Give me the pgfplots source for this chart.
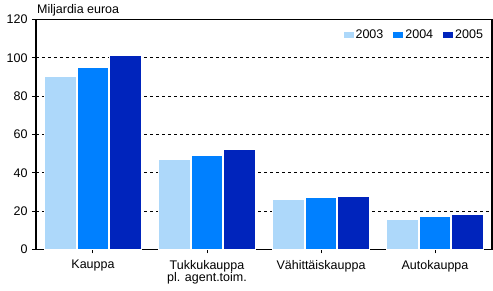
\documentclass[border=0pt]{standalone}
\usepackage{pgfplots}
\pgfplotsset{compat=1.18}
\usepackage{fontspec}
\setmainfont{Liberation Sans}
\definecolor{cA}{RGB}{173,216,250}
\definecolor{cB}{RGB}{0,128,255}
\definecolor{cC}{RGB}{0,36,188}
\begin{document}
\begin{tikzpicture}
\begin{axis}[
  at={(0pt,0pt)}, anchor=south west,
  scale only axis, width=456pt, height=230pt,
  xmin=-0.5, xmax=3.5, ymin=0, ymax=120,
  clip=false,
  ytick={0,20,...,120},
  xtick={0,1,2,3},
  xticklabels={Kauppa,{Tukkukauppa\\pl. agent.toim.},Vähittäiskauppa,Autokauppa},
  xticklabel style={align=center, font=\fontsize{12.5}{12.5}\selectfont, yshift=-3pt},
  yticklabel style={font=\fontsize{12.5}{12.5}\selectfont, xshift=-1pt},
  /pgf/number format/assume math mode=true,
  tick align=outside, major tick length=4pt,
  xtick pos=bottom, ytick pos=left,
  tick style={black, line width=1pt},
  axis line style={black, line width=1.3pt},
  ymajorgrids, grid style={black, dash pattern=on 3pt off 3pt, line width=0.8pt},
  ybar, bar width=31.5pt,
  legend style={at={(rel axis cs:1,1)}, anchor=north east, xshift=-7pt, yshift=-8pt,
    draw=none, fill=none, legend columns=-1, font=\fontsize{12.5}{12.5}\selectfont,
    /tikz/every even column/.append style={column sep=8pt},
    inner sep=0pt, outer sep=0pt},
  legend image code/.code={\fill[#1,draw=none] (0pt,-3pt) rectangle (10pt,3pt);},
]
\addplot[fill=cA, draw=white, line width=1pt, bar shift=-32.5pt] coordinates {(0,90.5) (1,47.2) (2,26.3) (3,15.4)};
\addplot[fill=cB, draw=white, line width=1pt, bar shift=0pt] coordinates {(0,95.2) (1,49.3) (2,26.9) (3,17.0)};
\addplot[fill=cC, draw=white, line width=1pt, bar shift=32.5pt] coordinates {(0,101) (1,52.4) (2,27.9) (3,18.5)};
\legend{2003,2004,2005}
\node[anchor=base west, font=\fontsize{12.5}{12.5}\selectfont, inner sep=0pt] at (rel axis cs:0,1) [xshift=1pt, yshift=5.5pt] {Miljardia euroa};
\end{axis}
\pgfresetboundingbox
\path (-36pt,-41.5pt) rectangle (457pt,249.5pt);
\end{tikzpicture}
\end{document}
